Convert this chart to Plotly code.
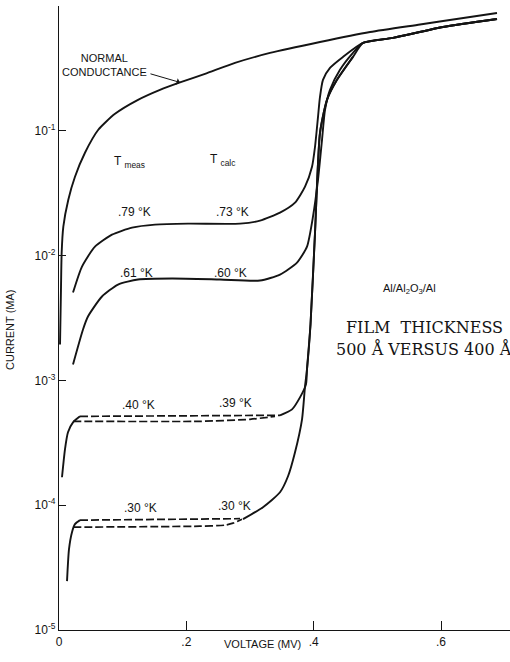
import math
import plotly.graph_objects as go

# ---- measured current-voltage characteristics (voltage in mV, current in mA) ----
V_NORMAL = [0.0016, 0.0031, 0.0042, 0.0068, 0.0146, 0.0251, 0.0408, 0.0617, 0.0880, 0.1241,
            0.1586, 0.1900, 0.2293, 0.2764, 0.3314, 0.4099, 0.4885, 0.5670, 0.6298, 0.6879]
I_NORMAL = [0.00194, 0.00535, 0.01057, 0.01706, 0.02805, 0.04285, 0.0667, 0.1019, 0.1368, 0.177,
            0.2128, 0.2443, 0.2858, 0.350, 0.4207, 0.515, 0.619, 0.711, 0.794, 0.879]

# shared branch above the gap voltage
V_TAIL = [0.4775, 0.5246, 0.6031, 0.6879]
I_TAIL = [0.506, 0.555, 0.679, 0.787]

V_079 = [0.022, 0.0361, 0.0565, 0.0832, 0.1147, 0.1508, 0.2026, 0.2843, 0.3157, 0.3471,
         0.3707, 0.3864, 0.3974, 0.4021, 0.4068, 0.4099, 0.4146, 0.4256, 0.446]
I_079 = [0.00506, 0.00817, 0.0118, 0.01472, 0.01675, 0.0177, 0.01803, 0.01803, 0.01905, 0.02208,
         0.02655, 0.03565, 0.0515, 0.0745, 0.1294, 0.187, 0.256, 0.319, 0.391]

V_061 = [0.022, 0.0377, 0.0455, 0.0675, 0.0927, 0.1241, 0.1775, 0.2529, 0.3157, 0.3471,
         0.3738, 0.3895, 0.3989, 0.4068, 0.4131, 0.4178, 0.4256, 0.4413, 0.4617]
I_061 = [0.001343, 0.00256, 0.00325, 0.0047, 0.00586, 0.00643, 0.00655, 0.00643, 0.00631, 0.00705,
         0.00879, 0.0118, 0.0205, 0.0406, 0.0847, 0.147, 0.213, 0.308, 0.421]

V_040_RISE = [0.0047, 0.0094, 0.0141, 0.022, 0.033]
I_040_RISE = [1.675e-4, 2.805e-4, 3.84e-4, 4.61e-4, 5.15e-4]
V_040_UPPER = [0.033, 0.3471]
I_040_UPPER = [5.15e-4, 5.25e-4]
V_040_LOWER = [0.022, 0.2215, 0.300, 0.3392]
I_040_LOWER = [4.70e-4, 4.70e-4, 4.88e-4, 5.15e-4]
V_040_KNEE = [0.3471, 0.366, 0.3785, 0.3879]
I_040_KNEE = [5.25e-4, 5.86e-4, 7.31e-4, 9.29e-4]

V_030_RISE = [0.0126, 0.0157, 0.0204, 0.0251, 0.033]
I_030_RISE = [2.466e-5, 4.446e-5, 6.08e-5, 7.05e-5, 7.59e-5]
V_030_UPPER = [0.033, 0.2843]
I_030_UPPER = [7.59e-5, 7.80e-5]
V_030_LOWER = [0.022, 0.2215, 0.2607, 0.2733, 0.2874]
I_030_LOWER = [6.67e-5, 6.79e-5, 6.92e-5, 7.18e-5, 7.73e-5]
# steep rise at the gap, shared by the two lowest temperatures
V_030_STEP = [0.289, 0.3204, 0.3471, 0.3597, 0.3707, 0.3817, 0.3864, 0.3895, 0.395,
              0.4021, 0.4099, 0.4209, 0.4366, 0.4617]
I_030_STEP = [7.73e-5, 9.64e-5, 1.27e-4, 1.706e-4, 2.655e-4, 4.88e-4, 8.95e-4, 1.225e-3, 2.805e-3,
              0.01528, 0.0964, 0.177, 0.256, 0.391]

TEMP_MEAS = [".79 °K", ".61 °K", ".40 °K", ".30 °K"]
TEMP_CALC = [".73 °K", ".60 °K", ".39 °K", ".30 °K"]

Y_TICKS = [1e-5, 1e-4, 1e-3, 1e-2, 1e-1, 1.0]
Y_TICKTEXT = ["10<sup>-5</sup>", "10<sup>-4</sup>", "10<sup>-3</sup>",
              "10<sup>-2</sup>", "10<sup>-1</sup>", ""]
X_TICKS = [0.0, 0.2, 0.4, 0.6]
X_TICKTEXT = ["0", ".2", ".4", ".6"]

# ---- figure geometry ----
W, H = 510, 662
ML, MR, MT, MB = 59, 0, 6, 32
PX_PER_MV = 636.7

def xp(px):
    return (px - ML) / (W - ML - MR)

def yp(py):
    return (H - MB - py) / (H - MT - MB)

INK = "#141414"
SANS = "Liberation Sans"

fig = go.Figure()

def curve(v, i, dash="solid", width=1.9):
    fig.add_trace(go.Scatter(
        x=v, y=i, mode="lines",
        line=dict(color=INK, width=width, dash=dash, shape="spline", smoothing=0.6),
        hoverinfo="skip", showlegend=False))

curve(V_NORMAL, I_NORMAL)
curve(V_079 + V_TAIL, I_079 + I_TAIL)
curve(V_061 + V_TAIL, I_061 + I_TAIL)

DASH = "8px,3px"
curve(V_040_RISE, I_040_RISE)
curve(V_040_UPPER, I_040_UPPER, dash=DASH, width=1.7)
curve(V_040_LOWER, I_040_LOWER, dash=DASH, width=1.7)
curve(V_040_KNEE + V_030_STEP[7:], I_040_KNEE + I_030_STEP[7:])

curve(V_030_RISE, I_030_RISE)
curve(V_030_UPPER, I_030_UPPER, dash=DASH, width=1.7)
curve(V_030_LOWER, I_030_LOWER, dash=DASH, width=1.7)
curve(V_030_STEP + V_TAIL, I_030_STEP + I_TAIL)

annotations = []

def label(text, x, y, size=12, xanchor="center", family=SANS, angle=0):
    annotations.append(dict(
        text=text, x=xp(x), y=yp(y), xref="paper", yref="paper",
        xanchor=xanchor, yanchor="middle", showarrow=False, textangle=angle,
        font=dict(family=family, size=size, color=INK)))

label("NORMAL<br>CONDUCTANCE", 104, 65, size=11)
# arrow pointing onto the normal-conductance curve
ARROW_AT = 11
annotations.append(dict(
    x=V_NORMAL[ARROW_AT], y=math.log10(I_NORMAL[ARROW_AT]),
    xref="x", yref="y", text="", showarrow=True,
    ax=-31, ay=-9, arrowhead=1, arrowsize=1.1, arrowwidth=1, arrowcolor=INK, standoff=0))

label("T <sub>meas</sub>", 112, 162, size=12, xanchor="left")
label("T <sub>calc</sub>", 208, 160, size=12, xanchor="left")

meas_pos = [(116, 212), (118, 273), (120, 405), (122, 508)]
calc_pos = [(214, 212), (212, 273), (217, 403), (216, 506)]
for t, (x, y) in zip(TEMP_MEAS, meas_pos):
    label(t, x, y, xanchor="left")
for t, (x, y) in zip(TEMP_CALC, calc_pos):
    label(t, x, y, xanchor="left")

label("Al/Al<sub>2</sub>O<sub>3</sub>/Al", 409, 289, size=11)
label("FILM  THICKNESS", 424, 328, size=16, family="DejaVu Serif")
label("500 Å VERSUS 400 Å", 424, 349, size=16, family="DejaVu Serif")

label("VOLTAGE (MV)", 262, 644, size=11)
label("CURRENT (MA)", 10, 330, size=11, angle=-90)

fig.update_layout(
    width=W, height=H,
    margin=dict(l=ML, r=MR, t=MT, b=MB, pad=0),
    paper_bgcolor="white", plot_bgcolor="white",
    annotations=annotations,
    xaxis=dict(
        range=[0, (W - ML - MR) / PX_PER_MV],
        showgrid=False, zeroline=False,
        showline=True, linecolor=INK, linewidth=1.4,
        ticks="inside", ticklen=9, tickwidth=1.2, tickcolor=INK,
        tickmode="array", tickvals=X_TICKS, ticktext=X_TICKTEXT,
        tickfont=dict(family=SANS, size=12, color=INK),
    ),
    yaxis=dict(
        type="log", range=[-5, 0],
        showgrid=False, zeroline=False,
        showline=True, linecolor=INK, linewidth=1.4,
        ticks="inside", ticklen=7, tickwidth=1.2, tickcolor=INK,
        tickmode="array", tickvals=Y_TICKS, ticktext=Y_TICKTEXT,
        tickfont=dict(family=SANS, size=12, color=INK),
    ),
)

fig.write_html("out.html")
